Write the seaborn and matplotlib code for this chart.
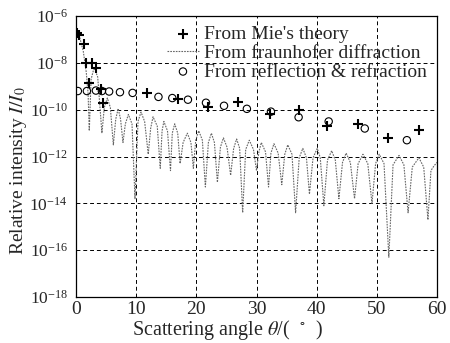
import numpy as np
import pandas as pd
import matplotlib
matplotlib.use('Agg')
import matplotlib.pyplot as plt
import seaborn as sns
from matplotlib.ticker import FixedLocator

# Mie's theory (angle in deg, log10 of relative intensity)
mie_angle = [0.2, 0.5, 1.3, 1.7, 2.2, 2.7, 3.3, 4.2, 4.5, 11.8, 17.0, 22.0,
             27.0, 32.3, 37.0, 41.8, 46.8, 51.8, 57.0]
mie_log = [-6.7, -6.8, -7.2, -8.0, -8.85, -8.0, -8.2, -9.1, -9.7, -9.3, -9.56,
           -9.9, -9.65, -10.2, -10.0, -10.7, -10.6, -11.2, -10.85]

# reflection & refraction
rr_angle = [0.3, 1.8, 3.3, 4.3, 5.5, 7.3, 9.4, 13.7, 16.0, 18.6, 21.6, 24.6,
            28.4, 32.4, 37.0, 42.0, 48.0, 55.0]
rr_log = [-9.2, -9.2, -9.18, -9.2, -9.22, -9.25, -9.28, -9.45, -9.5, -9.57,
          -9.7, -9.83, -9.96, -10.08, -10.32, -10.5, -10.8, -11.3]

# fraunhofer diffraction (troughs, shoulders, peaks)
fd_angle = [0, 0.6, 1.2, 1.7, 2.0, 2.2,
            2.5, 3.0, 3.6, 4.3,
            4.7, 5.2, 5.7, 6.2,
            6.6, 7.0, 7.4, 7.8,
            8.2, 8.7, 9.3, 9.8,
            10.3, 10.8, 11.4, 12.0,
            12.4, 12.8, 13.5, 14.0,
            14.3, 14.6, 15.2, 15.7,
            16.0, 16.4, 16.9, 17.3,
            17.8, 18.5, 19.1, 19.5,
            19.9, 20.4, 21.0, 21.5,
            22.0, 22.5, 23.0, 23.5,
            24.0, 24.5, 25.1, 25.7,
            26.2, 26.7, 27.2, 27.7,
            28.2, 28.8, 29.5, 30.0,
            30.4, 30.8, 31.5, 32.0,
            32.4, 32.9, 33.6, 34.2,
            34.7, 35.2, 35.9, 36.5,
            37.1, 37.7, 38.3, 38.8,
            39.4, 40.1, 40.6, 41.2,
            41.8, 42.5, 43.1, 43.7,
            44.3, 44.9, 45.6, 46.3,
            46.9, 47.7, 48.5, 49.2,
            49.8, 50.4, 51.2, 52.0,
            52.7, 53.7, 54.5, 55.2,
            55.9, 57.0, 57.8, 58.5,
            59.0, 59.5, 60.0]
fd_log = [-6.6, -6.9, -7.5, -8.4, -9.3, -10.9,
          -8.7, -8.2, -8.6, -11.0,
          -9.9, -9.5, -9.9, -11.5,
          -10.4, -9.95, -10.4, -11.4,
          -10.6, -10.2, -10.6, -13.8,
          -10.5, -10.1, -10.5, -11.9,
          -10.8, -10.3, -10.7, -12.5,
          -10.9, -10.5, -10.9, -12.6,
          -11.0, -10.6, -11.0, -12.3,
          -11.4, -11.0, -11.4, -12.5,
          -11.3, -10.9, -11.3, -13.3,
          -11.4, -11.0, -11.4, -13.1,
          -11.6, -11.2, -11.6, -12.8,
          -11.65, -11.25, -11.65, -14.4,
          -11.7, -11.3, -11.7, -12.6,
          -11.8, -11.4, -11.8, -13.3,
          -11.85, -11.45, -11.85, -13.2,
          -11.9, -11.5, -11.9, -14.4,
          -12.05, -11.65, -12.05, -13.6,
          -12.05, -11.65, -12.05, -14.1,
          -12.15, -11.75, -12.15, -13.8,
          -12.25, -11.85, -12.25, -13.8,
          -12.3, -11.9, -12.3, -14.0,
          -12.3, -11.9, -12.3, -16.3,
          -12.35, -11.95, -12.35, -14.4,
          -12.45, -12.05, -12.45, -14.7,
          -12.6, -12.4, -12.25]

df_mie = pd.DataFrame({'angle': mie_angle, 'I': 10.0 ** np.array(mie_log)})
df_rr = pd.DataFrame({'angle': rr_angle, 'I': 10.0 ** np.array(rr_log)})
df_fd = pd.DataFrame({'angle': fd_angle, 'I': 10.0 ** np.array(fd_log)})

sns.set_style('white')
plt.rcParams['font.family'] = ['Liberation Serif', 'DejaVu Serif']
plt.rcParams['mathtext.fontset'] = 'stix'

fig = plt.figure(figsize=(4.5, 3.43), dpi=100)
ax = fig.add_axes([0.169, 0.134, 0.802, 0.819])

sns.lineplot(data=df_fd, x='angle', y='I', ax=ax, color='#666666', lw=0.8,
             linestyle=(0, (1.5, 1)), estimator=None, sort=False,
             label='From fraunhofer diffraction')
sns.scatterplot(data=df_mie, x='angle', y='I', ax=ax, marker='+', s=60,
                color='black', linewidth=1.5, label="From Mie's theory", zorder=5)
sns.scatterplot(data=df_rr, x='angle', y='I', ax=ax, marker='o', s=28,
                facecolor='none', edgecolor='black', linewidth=0.8,
                label='From reflection & refraction', zorder=5)

ax.set_yscale('log')
ax.set_xlim(0, 60)
ax.set_ylim(1e-18, 1e-6)
ax.yaxis.set_major_locator(FixedLocator([1e-18, 1e-16, 1e-14, 1e-12, 1e-10, 1e-8, 1e-6]))
ax.yaxis.set_minor_locator(FixedLocator([]))
ax.set_xticks([0, 10, 20, 30, 40, 50, 60])
ax.tick_params(axis='x', labelsize=14, length=0, pad=3)
ax.tick_params(axis='y', labelsize=12.5, length=0, pad=6)
ax.grid(True, linestyle=(0, (4, 3)), color='black', linewidth=0.7)
for s in ax.spines.values():
    s.set_color('black')
    s.set_linewidth(0.9)

ax.set_xlabel('Scattering angle $\\theta$/(  $^{\\circ}$  )', fontsize=14.5)
ax.set_ylabel('Relative intensity $I/I_0$', fontsize=14)
ax.xaxis.set_label_coords(0.42, -0.075)
ax.yaxis.set_label_coords(-0.13, 0.45)

h, l = ax.get_legend_handles_labels()
order = [l.index("From Mie's theory"), l.index('From fraunhofer diffraction'),
         l.index('From reflection & refraction')]
ax.legend([h[i] for i in order], [l[i] for i in order], loc='upper right',
          frameon=False, fontsize=14, handlelength=1.6, handletextpad=0.3,
          labelspacing=0.05, borderaxespad=0.1)

plt.savefig('out.png', dpi=100)
